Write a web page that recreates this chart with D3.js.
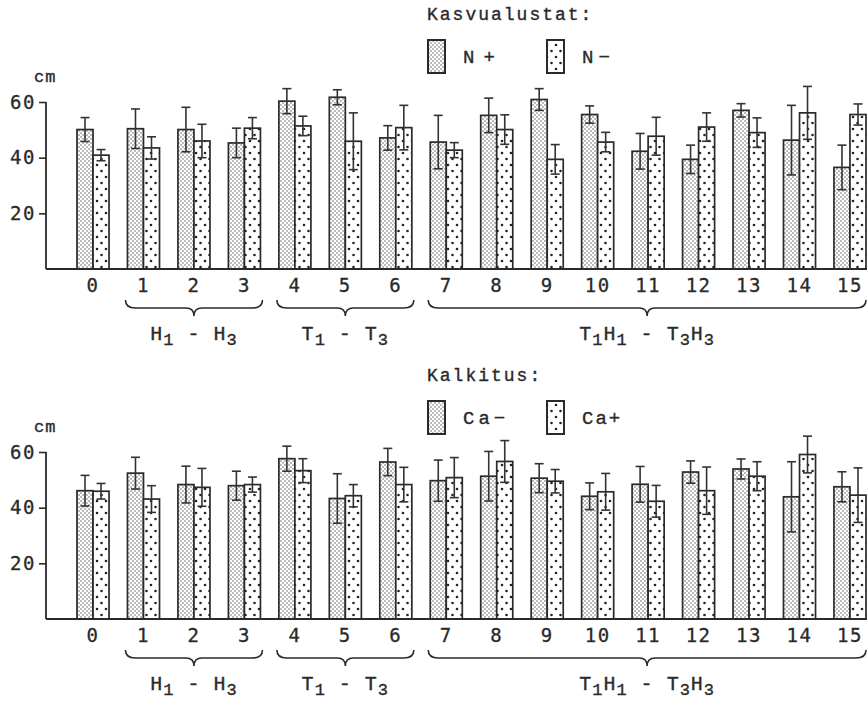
<!DOCTYPE html>
<html>
<head>
<meta charset="utf-8">
<script src="https://cdn.jsdelivr.net/npm/d3@7"></script>
<style>
  html, body { margin: 0; padding: 0; background: #fff; }
  svg { display: block; }
  .mono { font-family: "Liberation Mono", "DejaVu Sans Mono", monospace; fill: #2a2a2a; stroke: #2a2a2a; stroke-width: 0.35; }
  .num  { font-family: "DejaVu Sans Mono", monospace; fill: #2a2a2a; stroke: #2a2a2a; stroke-width: 0.3; }
</style>
</head>
<body>
<svg id="chart" width="867" height="704"></svg>
<script>
/* ── Data ───────────────────────────────────────────────────── */
const GROUP_LABELS = ["0","1","2","3","4","5","6","7","8","9","10","11","12","13","14","15"];
const Y_TICKS = [20, 40, 60];

/* Kasvualustat: N+ / N- (cm, mean ± sd) */
const N_PLUS      = [50.1, 50.4, 50.1, 45.3, 60.3, 61.7, 47.1, 45.6, 55.2, 60.9, 55.5, 42.3, 39.4, 57.0, 46.3, 36.5];
const N_PLUS_SD   = [4.3, 7.1, 8.0, 5.3, 4.5, 2.7, 4.4, 9.6, 6.2, 3.9, 3.1, 6.4, 5.1, 2.4, 12.5, 8.0];
const N_MINUS     = [40.9, 43.5, 46.0, 50.6, 51.4, 45.9, 50.8, 42.7, 50.1, 39.4, 45.6, 47.7, 51.0, 49.0, 56.1, 55.5];
const N_MINUS_SD  = [2.0, 4.0, 6.0, 3.8, 3.5, 10.2, 8.0, 2.7, 5.3, 5.3, 3.5, 6.8, 5.1, 5.3, 9.5, 3.8];

/* Kalkitus: Ca- / Ca+ */
const CA_MINUS    = [46.1, 52.4, 48.3, 47.9, 57.6, 43.3, 56.4, 49.7, 51.3, 50.6, 44.1, 48.4, 52.8, 53.9, 43.9, 47.5];
const CA_MINUS_SD = [5.5, 5.7, 6.6, 5.2, 4.5, 8.9, 4.9, 7.4, 8.9, 5.2, 4.8, 6.4, 4.0, 3.6, 12.6, 5.4];
const CA_PLUS     = [45.9, 43.1, 47.3, 48.3, 53.3, 44.3, 48.3, 50.8, 56.6, 49.5, 45.7, 42.3, 46.1, 51.3, 59.1, 44.5];
const CA_PLUS_SD  = [2.8, 4.8, 6.8, 2.7, 4.3, 4.0, 6.2, 7.2, 7.5, 4.2, 6.6, 5.7, 8.5, 5.2, 6.6, 9.8];

/* Treatment groups bracketed under the axis; each label part is [text, subscript] */
const BRACES = [
  { first: 1, last: 3,  label: [["H","1"], [" - ",""], ["H","3"]] },
  { first: 4, last: 6,  label: [["T","1"], [" - ",""], ["T","3"]] },
  { first: 7, last: 15, label: [["T","1"], ["H","1"], [" - ",""], ["T","3"], ["H","3"]] },
];

(function () {

  const INK = "#2a2a2a";
  const W   = 867;
  const SUB_DY = 5;
  const svg = d3.select("#chart");

  /* ── Fill patterns: fine stipple and coarse dots ─────────── */
  const defs = svg.append("defs");

  const fine = defs.append("pattern")
    .attr("id", "pat-fine").attr("patternUnits", "userSpaceOnUse")
    .attr("width", 4).attr("height", 4);
  fine.append("rect").attr("width", 4).attr("height", 4).attr("fill", "#fff");
  fine.append("circle").attr("cx", 1).attr("cy", 1).attr("r", 0.8).attr("fill", "#666");
  fine.append("circle").attr("cx", 3).attr("cy", 3).attr("r", 0.8).attr("fill", "#666");

  const coarse = defs.append("pattern")
    .attr("id", "pat-coarse").attr("patternUnits", "userSpaceOnUse")
    .attr("width", 9).attr("height", 12);
  coarse.append("rect").attr("width", 9).attr("height", 12).attr("fill", "#fff");
  coarse.append("circle").attr("cx", 2.5).attr("cy", 3).attr("r", 1.3).attr("fill", "#222");
  coarse.append("circle").attr("cx", 7).attr("cy", 9).attr("r", 1.3).attr("fill", "#222");

  /* ── Curly brace path: ends curl up, tip points down ─────── */
  function bracePath(x0, x1, yTop, yTip) {
    const yMid = yTop + 8, xc = (x0 + x1) / 2;
    return `M${x0},${yTop} Q${x0},${yMid} ${x0 + 10},${yMid}
            L${xc - 8},${yMid} Q${xc},${yMid} ${xc},${yTip}
            Q${xc},${yMid} ${xc + 8},${yMid}
            L${x1 - 10},${yMid} Q${x1},${yMid} ${x1},${yTop}`;
  }

  /* ── One panel: legend, axis, bars, error bars, braces ───── */
  function drawPanel(o) {
    const g = svg.append("g");

    const x = d3.scaleBand()
      .domain(GROUP_LABELS)
      .range([77, 866])
      .paddingInner(0.365)
      .paddingOuter(0);
    const xs = d3.scaleBand().domain([0, 1]).range([0, x.bandwidth()]);
    const y  = d3.scaleLinear().domain([0, 60]).range([o.baseY, o.baseY - 167]);

    /* Legend */
    g.append("text").attr("class", "mono")
      .attr("x", 427).attr("y", o.legendY)
      .attr("font-size", 18).attr("letter-spacing", 2)
      .text(o.title);

    o.series.forEach((s, i) => {
      const lx = [428, 547][i];
      g.append("rect")
        .attr("x", lx).attr("y", o.legendY + 20)
        .attr("width", 17).attr("height", 33)
        .attr("fill", `url(#${s.pattern})`)
        .attr("stroke", INK).attr("stroke-width", 2);
      g.append("text").attr("class", "mono")
        .attr("x", lx + 35).attr("y", o.legendY + 43)
        .attr("font-size", 19).attr("letter-spacing", s.spacing)
        .text(s.name);
    });

    /* Unit label */
    g.append("text").attr("class", "mono")
      .attr("x", 34).attr("y", o.baseY - 187)
      .attr("font-size", 17).attr("letter-spacing", 1)
      .text("cm");

    /* Y axis */
    const yAxis = g.append("g")
      .attr("transform", "translate(46,0)")
      .call(d3.axisLeft(y).tickValues(Y_TICKS).tickSize(7).tickPadding(3));
    yAxis.select(".domain").remove();
    yAxis.selectAll("line").attr("stroke", INK).attr("stroke-width", 1.6);
    yAxis.selectAll("text")
      .attr("class", "num").attr("fill", INK)
      .attr("font-size", 19).attr("letter-spacing", 1.5);

    g.append("line")
      .attr("x1", 46).attr("x2", 46)
      .attr("y1", y(0)).attr("y2", y(60))
      .attr("stroke", INK).attr("stroke-width", 1.8);

    /* Bars */
    o.series.forEach((s, si) => {
      const grp = g.append("g");
      grp.selectAll("rect")
        .data(s.values)
        .join("rect")
        .attr("x", (d, i) => x(GROUP_LABELS[i]) + xs(si))
        .attr("y", d => y(d))
        .attr("width", xs.bandwidth())
        .attr("height", d => y(0) - y(d))
        .attr("fill", `url(#${s.pattern})`)
        .attr("stroke", INK).attr("stroke-width", 1.7);

      /* Error bars: vertical whisker with caps at both ends */
      const eb = g.append("g").attr("stroke", "#333").attr("stroke-width", 1.6);
      s.values.forEach((v, i) => {
        const cx = x(GROUP_LABELS[i]) + xs(si) + xs.bandwidth() / 2;
        const hi = y(v + s.sd[i]), lo = y(v - s.sd[i]);
        eb.append("line").attr("x1", cx).attr("x2", cx).attr("y1", hi).attr("y2", lo);
        eb.append("line").attr("x1", cx - 4.5).attr("x2", cx + 4.5).attr("y1", hi).attr("y2", hi);
        eb.append("line").attr("x1", cx - 4.5).attr("x2", cx + 4.5).attr("y1", lo).attr("y2", lo);
      });
    });

    /* Baseline */
    g.append("line")
      .attr("x1", 46).attr("x2", W)
      .attr("y1", y(0)).attr("y2", y(0))
      .attr("stroke", INK).attr("stroke-width", 2);

    /* Group numbers under the axis */
    const xAxis = g.append("g")
      .attr("transform", `translate(0,${y(0)})`)
      .call(d3.axisBottom(x).tickSize(0).tickPadding(9));
    xAxis.select(".domain").remove();
    xAxis.selectAll("text")
      .attr("class", "num").attr("fill", INK)
      .attr("font-size", 19).attr("letter-spacing", 1.5)
      .attr("dy", "0.75em");

    /* Braces + their labels */
    BRACES.forEach(b => {
      const x0 = x(GROUP_LABELS[b.first]) - 2;
      const x1 = Math.min(x(GROUP_LABELS[b.last]) + x.bandwidth() + 2, W - 1);
      g.append("path")
        .attr("d", bracePath(x0, x1, y(0) + 31, y(0) + 47))
        .attr("fill", "none")
        .attr("stroke", INK).attr("stroke-width", 1.6);

      const t = g.append("text").attr("class", "mono")
        .attr("x", (x0 + x1) / 2).attr("y", y(0) + 71)
        .attr("text-anchor", "middle")
        .attr("font-size", 20).attr("letter-spacing", 1);
      /* Subscripts drop by SUB_DY; the next part climbs back up */
      let lowered = false;
      b.label.forEach(([main, sub]) => {
        t.append("tspan").attr("dy", lowered ? -SUB_DY : 0).text(main);
        lowered = false;
        if (sub) {
          t.append("tspan").attr("font-size", 17).attr("dy", SUB_DY).text(sub);
          lowered = true;
        }
      });
    });
  }

  drawPanel({
    title: "Kasvualustat:",
    legendY: 20,
    baseY: 269,
    series: [
      { name: "N+",      spacing: 9, values: N_PLUS,  sd: N_PLUS_SD,  pattern: "pat-fine" },
      { name: "N\u2212", spacing: 5, values: N_MINUS, sd: N_MINUS_SD, pattern: "pat-coarse" },
    ],
  });

  drawPanel({
    title: "Kalkitus:",
    legendY: 381,
    baseY: 619,
    series: [
      { name: "Ca\u2212", spacing: 4, values: CA_MINUS, sd: CA_MINUS_SD, pattern: "pat-fine" },
      { name: "Ca+",      spacing: 2, values: CA_PLUS,  sd: CA_PLUS_SD,  pattern: "pat-coarse" },
    ],
  });

})();
</script>
</body>
</html>
